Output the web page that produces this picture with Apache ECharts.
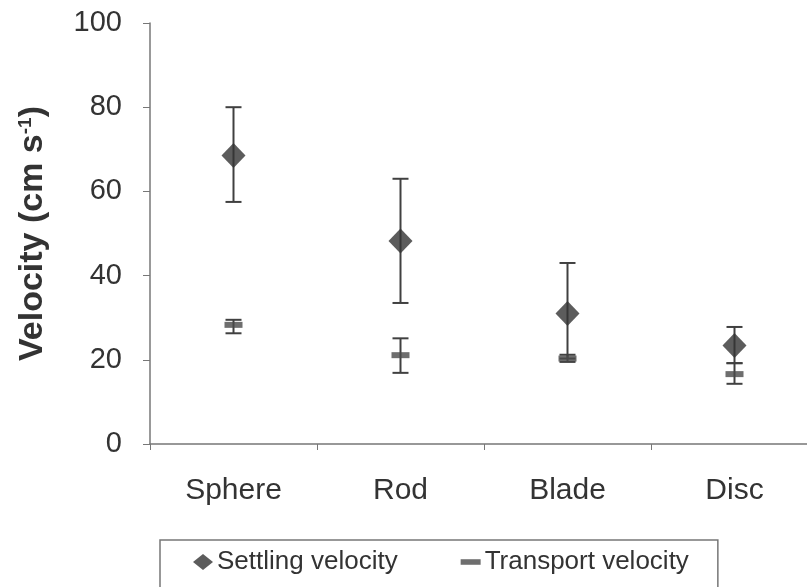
<!DOCTYPE html>
<html>
<head>
<meta charset="utf-8">
<script src="https://cdn.jsdelivr.net/npm/echarts@6/dist/echarts.min.js"></script>
<style>html,body{margin:0;padding:0;background:#fff;overflow:hidden;width:807px;height:587px;}#c{width:822px;height:587px;}</style>
</head>
<body>
<div id="c"></div>
<script>
var categories = ['Sphere', 'Rod', 'Blade', 'Disc'];
var settling = [68.5, 48.2, 31.0, 23.4];
var settlingLow = [57.5, 33.5, 20.3, 19.2];
var settlingHigh = [80.0, 63.0, 43.0, 27.8];
var transport = [28.3, 21.1, 20.3, 16.6];
var transportLow = [26.3, 16.9, 19.5, 14.3];
var transportHigh = [29.5, 25.1, 21.2, 19.2];
var yTicks = [0, 20, 40, 60, 80, 100];

var chart = echarts.init(document.getElementById('c'), null, {renderer: 'canvas'});
var FONT = 'Liberation Sans, Arial, sans-serif';
var dark = '#333333';

function errData(low, high) {
  return categories.map(function (c, i) { return [i, low[i], high[i]]; });
}
function errRender(params, api) {
  var x = api.value(0);
  var lo = api.coord([x, api.value(1)]);
  var hi = api.coord([x, api.value(2)]);
  var w = 8;
  var st = {stroke: '#404040', lineWidth: 2};
  return {
    type: 'group',
    children: [
      {type: 'line', shape: {x1: lo[0], y1: lo[1], x2: hi[0], y2: hi[1]}, style: st},
      {type: 'line', shape: {x1: lo[0] - w, y1: lo[1], x2: lo[0] + w, y2: lo[1]}, style: st},
      {type: 'line', shape: {x1: hi[0] - w, y1: hi[1], x2: hi[0] + w, y2: hi[1]}, style: st}
    ]
  };
}

chart.setOption({
  backgroundColor: '#ffffff',
  animation: false,
  grid: {left: 150, right: 4, top: 23, bottom: 143, containLabel: false},
  legend: {
    left: 160, top: 540,
    data: [
      {name: 'Settling velocity', icon: 'path://M10,0L20,8L10,16L0,8Z'},
      {name: 'Transport velocity', icon: 'path://M0,0H18V5H0Z'}
    ],
    itemWidth: 20, itemHeight: 16, itemGap: 63,
    padding: [9, 29, 20, 33],
    borderColor: '#777', borderWidth: 1.5,
    textStyle: {fontFamily: FONT, fontSize: 26, color: '#333', padding: [0, 0, 0, -1]}
  },
  xAxis: {
    type: 'category',
    data: categories,
    boundaryGap: true,
    axisLine: {lineStyle: {color: '#777', width: 1.5}},
    axisTick: {show: true, length: 6, alignWithLabel: false, lineStyle: {color: '#777'}},
    axisLabel: {fontFamily: FONT, fontSize: 30, color: '#333', margin: 32}
  },
  yAxis: {
    type: 'value',
    min: yTicks[0], max: yTicks[yTicks.length - 1], interval: 20,
    splitLine: {show: false},
    axisLine: {show: true, lineStyle: {color: '#777', width: 1.5}},
    axisTick: {show: true, length: 7, lineStyle: {color: '#777'}},
    axisLabel: {fontFamily: FONT, fontSize: 29, color: '#333', margin: 28},
    name: '{a|Velocity (cm s}{s|-1}{a|)}',
    nameLocation: 'middle',
    nameGap: 100,
    nameRotate: 90,
    nameTextStyle: {
      rich: {
        a: {fontFamily: FONT, fontSize: 34, fontWeight: 'bold', color: '#333'},
        s: {fontFamily: FONT, fontSize: 19, fontWeight: 'bold', color: '#333', verticalAlign: 'top'}
      }
    }
  },
  series: [
    {
      name: 'settlingErr', type: 'custom', renderItem: errRender,
      data: errData(settlingLow, settlingHigh), z: 1, silent: true
    },
    {
      name: 'transportErr', type: 'custom', renderItem: errRender,
      data: errData(transportLow, transportHigh), z: 1, silent: true
    },
    {
      name: 'Settling velocity', type: 'scatter', symbol: 'diamond', symbolSize: [24, 25],
      itemStyle: {color: dark}, data: settling, z: 3
    },
    {
      name: 'Transport velocity', type: 'scatter', symbol: 'rect', symbolSize: [18, 6],
      itemStyle: {color: '#4a4a4a'}, data: transport, z: 3
    }
  ]
});
</script>
</body>
</html>
